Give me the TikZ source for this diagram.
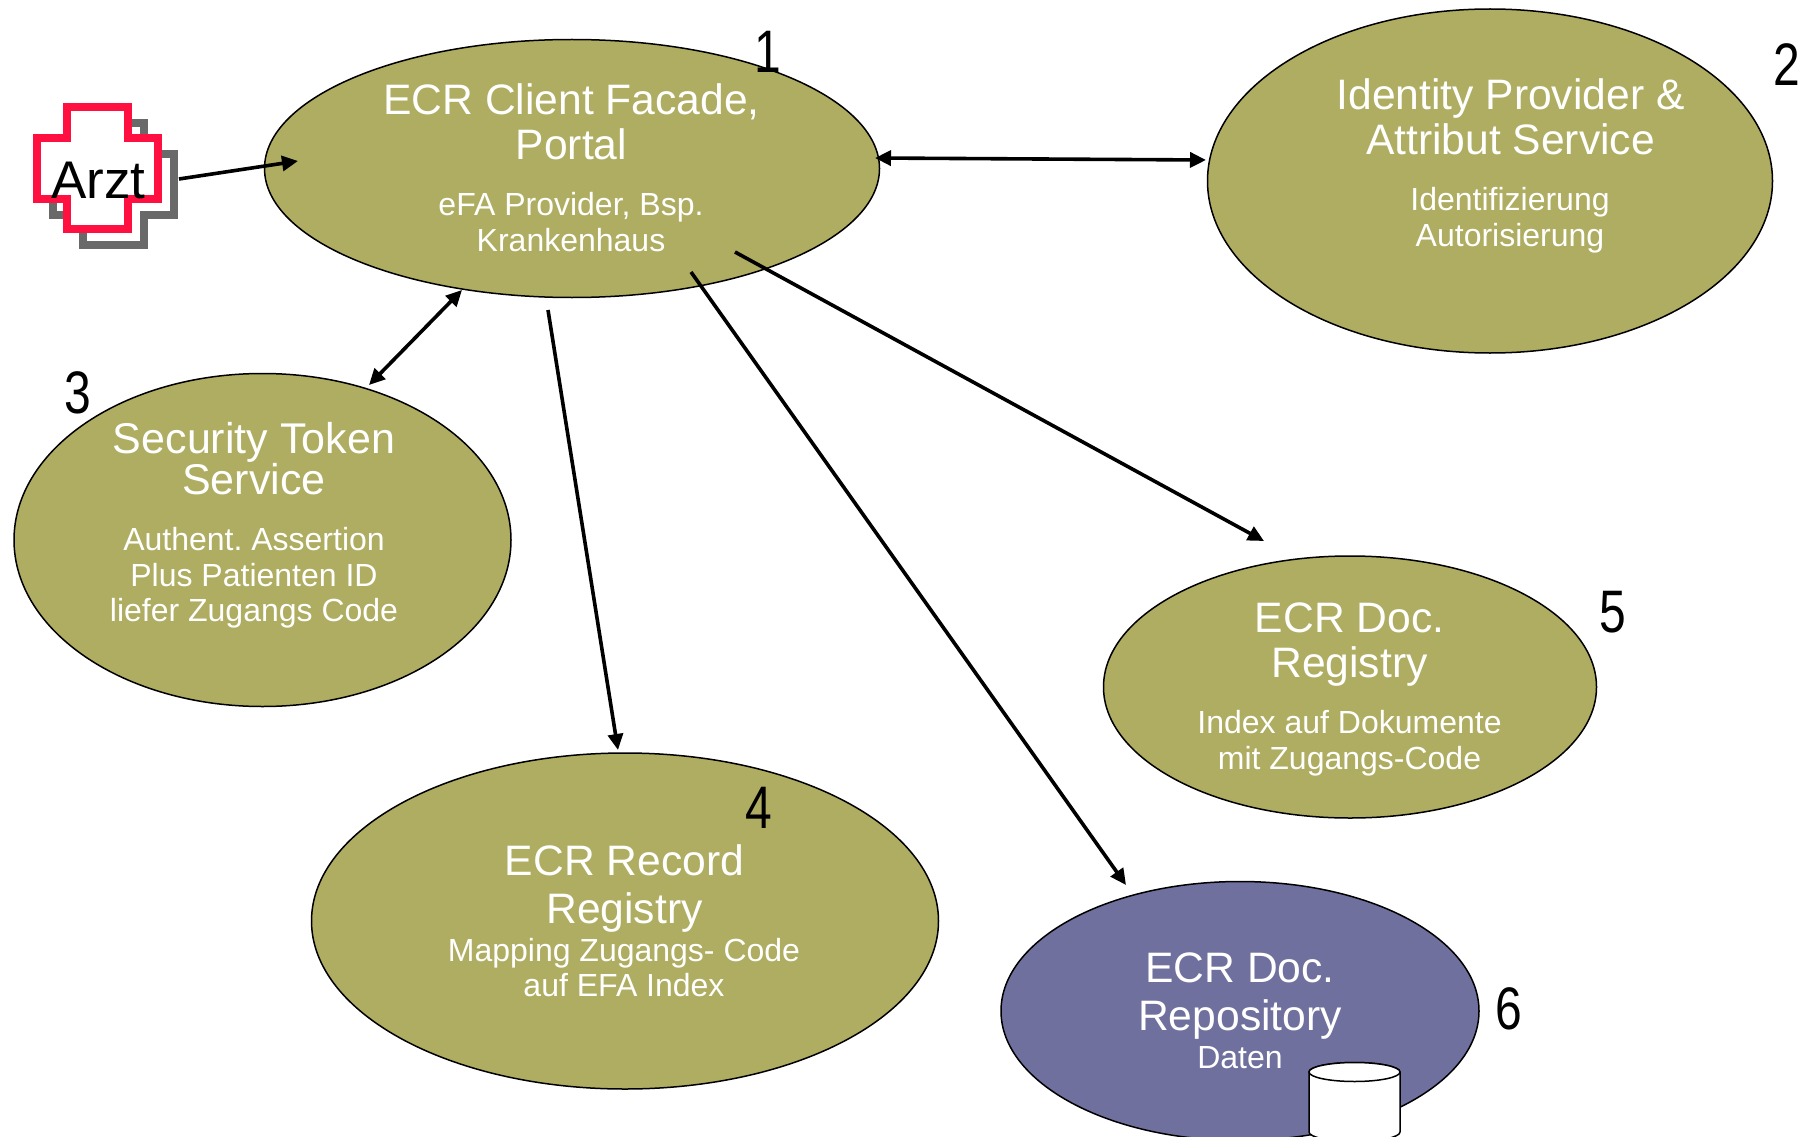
\documentclass[tikz,border=0pt]{standalone}
\usepackage{fontspec}
\setmainfont{Liberation Sans}
\usetikzlibrary{arrows.meta,shapes.geometric}
\frenchspacing
\definecolor{olive}{RGB}{175,173,97}
\definecolor{slate}{RGB}{112,112,158}
\definecolor{crossred}{RGB}{255,16,64}
\definecolor{crossgrey}{RGB}{105,105,105}
\newcommand{\crossoutline}{(67.3,107.3) -- (128,107.3) -- (128,138) -- (158.3,138) -- (158.3,199) -- (128,199) -- (128,229.3) -- (67.3,229.3) -- (67.3,199) -- (37.3,199) -- (37.3,138) -- (67.3,138) -- cycle}
\tikzset{
  x=1pt,y=-1pt,
  blob/.style={ellipse,draw=black,line width=1.5pt,inner sep=0pt,outer sep=0pt},
  service/.style={blob,fill=olive},
  store/.style={blob,fill=slate},
  titletext/.style={text=white,inner sep=0pt,align=center,font=\fontsize{42.6}{45}\selectfont},
  subtext/.style={text=white,inner sep=0pt,align=center,font=\fontsize{32}{35.5}\selectfont},
  digit/.style={inner sep=0pt,font=\fontsize{60}{60}\selectfont},
  conn/.style={line width=3.6pt,-{Triangle[length=16pt,width=15pt]}},
  conn2/.style={line width=3.6pt,{Triangle[length=16pt,width=15pt]}-{Triangle[length=16pt,width=15pt]}},
  crosspen/.style={line width=8pt,miter limit=10},
}
\newcommand{\cond}[1]{\scalebox{0.8}[1]{#1}}
\begin{document}
\begin{tikzpicture}
\useasboundingbox (0,0) rectangle (1802,1137);
\clip (0,0) rectangle (1802,1137);
% ellipses
\node[service,minimum width=615pt,minimum height=258pt] (e1) at (572,168.5) {};
\node[service,minimum width=565pt,minimum height=344pt] (e2) at (1490,181) {};
\node[service,minimum width=497pt,minimum height=333pt] (e3) at (262.5,540) {};
\node[service,minimum width=627pt,minimum height=336pt] (e4) at (625,921) {};
\node[service,minimum width=493pt,minimum height=262pt] (e5) at (1350,687) {};
\node[store,minimum width=478pt,minimum height=259pt] (e6) at (1240,1011) {};
% cylinder
\path[draw=black,line width=1.5pt,fill=white]
  (1309,1072) -- (1309,1132) arc[start angle=180,end angle=360,x radius=45.5pt,y radius=9.5pt]
  -- (1400,1072) arc[start angle=0,end angle=-180,x radius=45.5pt,y radius=-9.5pt] -- cycle;
\path[draw=black,line width=1.5pt,fill=white]
  (1354.5,1072) ellipse[x radius=45.5pt,y radius=9.5pt];
% Arzt cross
\begin{scope}[shift={(16,16)}]
\draw[crosspen,draw=crossgrey,fill=white] \crossoutline;
\end{scope}
\draw[crosspen,draw=crossred,fill=white] \crossoutline;
\node[inner sep=0pt,anchor=base,font=\fontsize{53}{53}\selectfont] (arzt) at (98.5,198) {Arzt};
% texts
\node[titletext] (t1) at (571.5,122) {ECR Client Facade,\\Portal};
\node[subtext] (s1) at (571,222) {eFA Provider, Bsp.\\Krankenhaus};
\node[titletext] (t2) at (1510.5,117) {Identity Provider \&\\Attribut Service};
\node[subtext] (s2) at (1510,220) {Identifizierung\\Autorisierung};
\node[titletext,font=\fontsize{43}{45}\selectfont] (t3) at (254,458.5) {Security Token\\[-4pt]Service};
\node[subtext] (s3) at (254,578) {Authent. Assertion\\Plus Patienten ID\\liefer Zugangs Code};
\node[titletext] (t4) at (624.5,888.5) {ECR Record\\[3pt]Registry};
\node[subtext] (s4) at (624,967.5) {Mapping Zugangs- Code\\auf EFA Index};
\node[titletext] (t5) at (1349.5,644.5) {ECR Doc.\\Registry};
\node[subtext] (s5) at (1349.5,743) {Index auf Dokumente\\mit Zugangs-Code};
\node[titletext] (t6) at (1240,996.5) {ECR Doc.\\[3pt]Repository};
\node[subtext] (s6) at (1240,1058) {Daten};
% digits
\node[digit] (n1) at (768,52) {\cond{1}};
\node[digit] (n2) at (1787,65) {\cond{2}};
\node[digit] (n3) at (77.5,393) {\cond{3}};
\node[digit] (n4) at (758.5,808) {\cond{4}};
\node[digit] (n5) at (1612.5,612) {\cond{5}};
\node[digit] (n6) at (1509,1009) {\cond{6}};
% connector ends
\coordinate (a0) at (179,179);
\coordinate (a1) at (298,161);
\coordinate (b0) at (875,158);
\coordinate (b1) at (1206,160);
\coordinate (c0) at (462,290);
\coordinate (c1) at (369,385);
\coordinate (d0) at (548,310);
\coordinate (d1) at (618,750);
\coordinate (f0) at (735,252);
\coordinate (f1) at (1264,541);
\coordinate (g0) at (691,272);
\coordinate (g1) at (1126,885);
\draw[conn] (a0) -- (a1);
\draw[conn2] (b0) -- (b1);
\draw[conn2] (c0) -- (c1);
\draw[conn] (d0) -- (d1);
\draw[conn] (f0) -- (f1);
\draw[conn] (g0) -- (g1);
\end{tikzpicture}
\end{document}
